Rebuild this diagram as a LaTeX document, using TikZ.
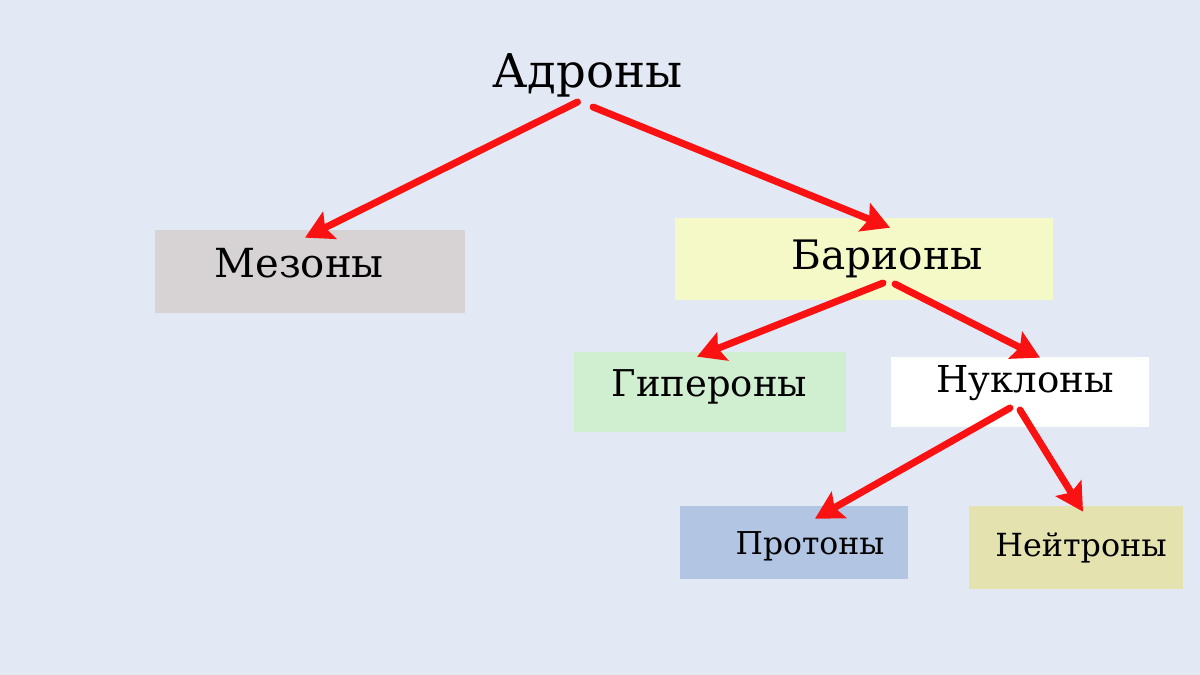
\documentclass[tikz,border=0pt]{standalone}
\usepackage{fontspec}
\setmainfont{DejaVu Serif}
\usetikzlibrary{
  arrows.meta,
  calc
}
\usepackage{xcolor}
\definecolor{bgBlue}{RGB}{227,233,244}
\definecolor{mesonGrey}{RGB}{215,210,212}
\definecolor{baryonYellow}{RGB}{245,249,200}
\definecolor{hyperonGreen}{RGB}{208,238,208}
\definecolor{protonBlue}{RGB}{178,198,228}
\definecolor{neutronOlive}{RGB}{228,226,174}
\definecolor{arrowRed}{RGB}{250,18,18}
\tikzset{
  box/.style={
    draw=none,
    inner sep = 0pt
  },
  label/.style={
    anchor = base,
    inner sep = 0pt
  },
  link/.style={
    draw=arrowRed,
    line width = 0.14cm,
    line cap = round,
    -{Stealth[length=0.55cm,width=0.6cm,inset=0.1cm]}
  }
}

\begin{document}
\begin{tikzpicture}[x=0.02cm,y=-0.02cm]
    \fill[bgBlue] (0,0) rectangle (1200,675);
    \useasboundingbox (0,0) rectangle (1200,675);

    \node[box, fill=mesonGrey, minimum width=6.2cm, minimum height=1.66cm] (mesB) at (310,271.5) {};
    \node[box, fill=baryonYellow, minimum width=7.56cm, minimum height=1.64cm] (barB) at (864,259) {};
    \node[box, fill=hyperonGreen, minimum width=5.44cm, minimum height=1.6cm] (hypB) at (710,392) {};
    \node[box, fill=white, minimum width=5.16cm, minimum height=1.4cm] (nucB) at (1020,392) {};
    \node[box, fill=protonBlue, minimum width=4.56cm, minimum height=1.46cm] (proB) at (794,542.5) {};
    \node[box, fill=neutronOlive, minimum width=4.28cm, minimum height=1.66cm] (neuB) at (1076,547.5) {};

    \node[label, font=\fontsize{26.5}{30}\selectfont] (had) at (587.5,88) {Адроны};
    \node[label, font=\fontsize{22.8}{27}\selectfont] (mes) at (299,278) {Мезоны};
    \node[label, font=\fontsize{23.1}{27}\selectfont] (bar) at (887,270) {Барионы};
    \node[label, font=\fontsize{21}{25}\selectfont] (hyp) at (709.5,397) {Гипероны};
    \node[label, font=\fontsize{21.1}{25}\selectfont] (nuc) at (1025,393) {Нуклоны};
    \node[label, font=\fontsize{17.9}{22}\selectfont] (pro) at (810,554) {Протоны};
    \node[label, font=\fontsize{18.1}{22}\selectfont] (neu) at (1081,556) {Нейтроны};

    \draw[link] ($(had.base)+(-10,14)$) -- ($(mesB.north)+(-5,8)$);
    \draw[link] ($(had.base)+(5.5,19)$) -- ($(barB.north)+(26,10)$);
    \draw[link] ($(bar.base)+(-4,13)$) -- ($(hypB.north)+(-13,5)$);
    \draw[link] ($(bar.base)+(8,14)$) -- ($(nucB.north)+(20,1)$);
    \draw[link] ($(nuc.base)+(-15,15)$) -- ($(proB.north)+(21,13)$);
    \draw[link] ($(nuc.base)+(-5,17)$) -- ($(neuB.north)+(7,6)$);
\end{tikzpicture}
\end{document}
